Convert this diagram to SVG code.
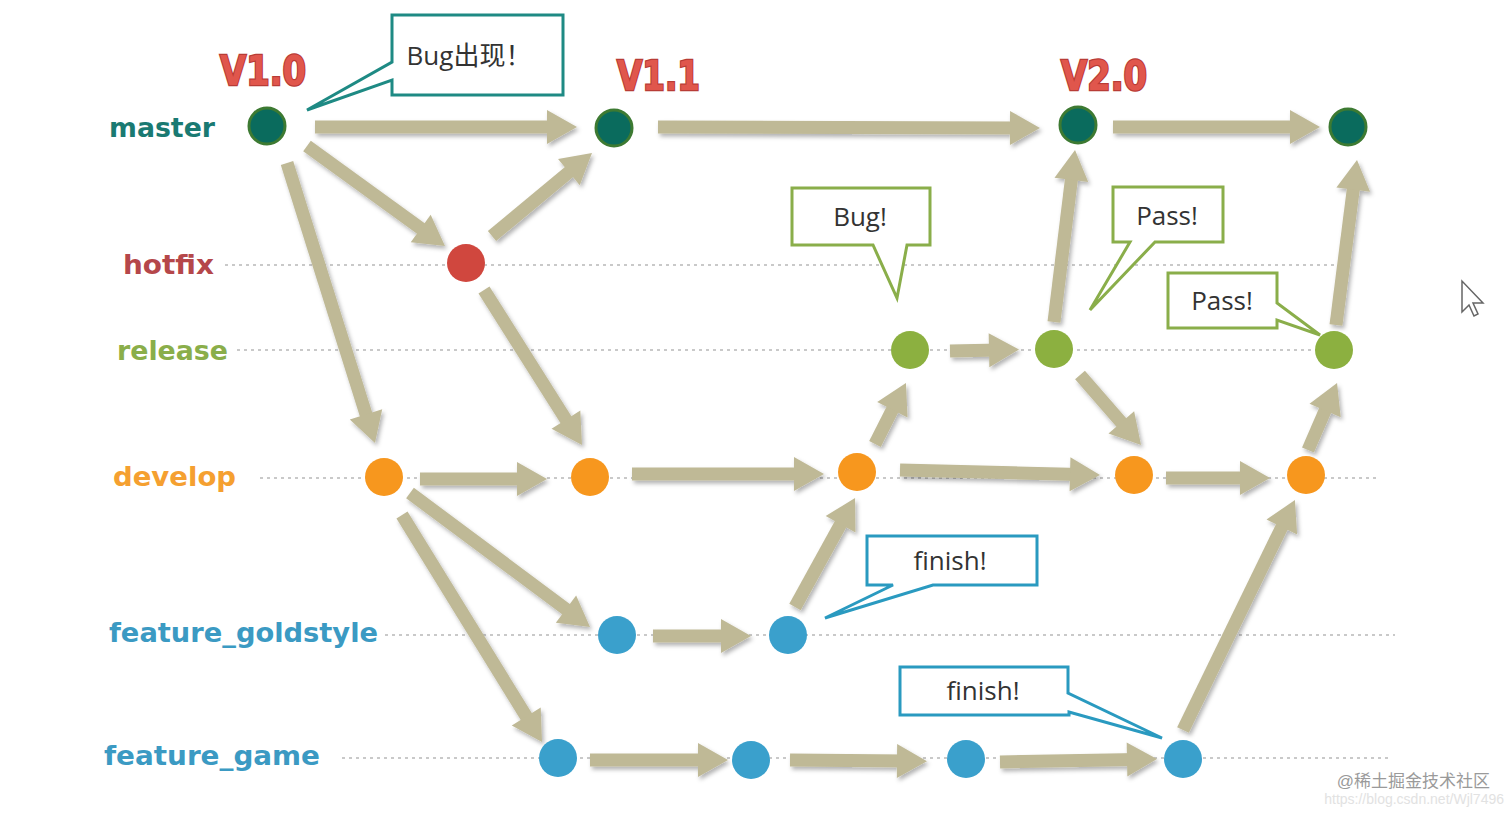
<svg xmlns="http://www.w3.org/2000/svg" width="1512" height="813" viewBox="0 0 1512 813">
<style>
.lbl{font-family:"DejaVu Sans","Liberation Sans",sans-serif;font-weight:bold;font-size:27px}
.ver{font-family:"DejaVu Sans","Liberation Sans",sans-serif;font-weight:bold;font-size:40px;fill:#e0564c;stroke:#b83c36;stroke-width:2.5;paint-order:stroke}
.dot{stroke:#c9c9c9;stroke-width:2;stroke-dasharray:3 4;fill:none}
.arr{stroke:#bfb996;stroke-width:13;fill:none;marker-end:url(#ah)}
.co{fill:#ffffff;stroke-width:3;stroke-linejoin:miter}
.ct{font-family:"Open Sans","Liberation Sans","Noto Sans CJK SC",sans-serif;font-size:26px;fill:#333;text-anchor:middle}
.m{fill:#0a6b5d;stroke:#3d7a32;stroke-width:3}
.h{fill:#d0473e}
.r{fill:#8cb040}
.d{fill:#f7971e}
.f{fill:#3aa0cc}
</style>
<defs>
<marker id="ah" markerUnits="userSpaceOnUse" markerWidth="32" markerHeight="36" refX="10" refY="17" orient="auto" overflow="visible">
<path d="M0,0 L30,17 L0,34 Z" fill="#bfb996"/>
</marker>
<filter id="sh" x="-10%" y="-10%" width="120%" height="120%">
<feDropShadow dx="2" dy="3" stdDeviation="2" flood-color="#000" flood-opacity="0.3"/>
</filter>
</defs>
<rect width="1512" height="813" fill="#ffffff"/>

<g id="lanes">
<line class="dot" x1="225" y1="265" x2="1340" y2="265"/>
<line class="dot" x1="237" y1="350" x2="1330" y2="350"/>
<line class="dot" x1="260" y1="478" x2="1380" y2="478"/>
<line class="dot" x1="385" y1="635" x2="1395" y2="635"/>
<line class="dot" x1="342" y1="758" x2="1390" y2="758"/>
</g>

<g id="labels">
<text class="lbl" x="109" y="137" fill="#1a7a72" textLength="106" lengthAdjust="spacingAndGlyphs">master</text>
<text class="lbl" x="123" y="274" fill="#b5474a" textLength="91" lengthAdjust="spacingAndGlyphs">hotfix</text>
<text class="lbl" x="117" y="360" fill="#8aae4a" textLength="111" lengthAdjust="spacingAndGlyphs">release</text>
<text class="lbl" x="113" y="486" fill="#f5a030" textLength="123" lengthAdjust="spacingAndGlyphs">develop</text>
<text class="lbl" x="109" y="642" fill="#3b9ac3" textLength="269" lengthAdjust="spacingAndGlyphs">feature_goldstyle</text>
<text class="lbl" x="104" y="765" fill="#3b9ac3" textLength="216" lengthAdjust="spacingAndGlyphs">feature_game</text>
<text class="ver" x="220" y="85" textLength="86" lengthAdjust="spacingAndGlyphs">V1.0</text>
<text class="ver" x="617" y="90" textLength="83" lengthAdjust="spacingAndGlyphs">V1.1</text>
<text class="ver" x="1061" y="90" textLength="86" lengthAdjust="spacingAndGlyphs">V2.0</text>
</g>

<g id="connectors" filter="url(#sh)">
<line class="arr" x1="315" y1="127" x2="557" y2="127"/>
<line class="arr" x1="658" y1="127" x2="1020" y2="128"/>
<line class="arr" x1="1113" y1="127" x2="1300" y2="127"/>
<line class="arr" x1="307" y1="146" x2="428.8" y2="234.3"/>
<line class="arr" x1="492" y1="236" x2="576.6" y2="165.8"/>
<line class="arr" x1="287" y1="163" x2="369" y2="423.9"/>
<line class="arr" x1="484" y1="290" x2="571.3" y2="428.1"/>
<line class="arr" x1="420" y1="479" x2="527" y2="479"/>
<line class="arr" x1="632" y1="474" x2="804" y2="474"/>
<line class="arr" x1="875" y1="444" x2="896.9" y2="400.8"/>
<line class="arr" x1="950" y1="351" x2="999" y2="350"/>
<line class="arr" x1="1054" y1="322" x2="1072.6" y2="169.9"/>
<line class="arr" x1="1080" y1="375" x2="1127.9" y2="429.9"/>
<line class="arr" x1="900" y1="470" x2="1080" y2="474.5"/>
<line class="arr" x1="1166" y1="478" x2="1250" y2="478"/>
<line class="arr" x1="1308" y1="450" x2="1329.1" y2="401.4"/>
<line class="arr" x1="1336" y1="325" x2="1354.5" y2="179.8"/>
<line class="arr" x1="410" y1="493" x2="574" y2="615.1"/>
<line class="arr" x1="402" y1="515" x2="531.5" y2="725"/>
<line class="arr" x1="653" y1="636" x2="731" y2="636"/>
<line class="arr" x1="795" y1="607" x2="845.4" y2="515.5"/>
<line class="arr" x1="590" y1="760" x2="708" y2="760"/>
<line class="arr" x1="790" y1="760" x2="907" y2="761"/>
<line class="arr" x1="1000" y1="762" x2="1137" y2="759.4"/>
<line class="arr" x1="1183" y1="730" x2="1286.2" y2="518"/>
</g>

<g id="master-nodes">
<circle id="m1" class="m" cx="267" cy="126" r="18"/>
<circle id="m2" class="m" cx="614" cy="128" r="18"/>
<circle id="m3" class="m" cx="1078" cy="125" r="18"/>
<circle id="m4" class="m" cx="1348" cy="127" r="18"/>
</g>
<g id="hotfix-nodes">
<circle id="h1" class="h" cx="466" cy="263" r="19"/>
</g>
<g id="release-nodes">
<circle id="r1" class="r" cx="910" cy="350" r="19"/>
<circle id="r2" class="r" cx="1054" cy="349" r="19"/>
<circle id="r3" class="r" cx="1334" cy="350" r="19"/>
</g>
<g id="develop-nodes">
<circle id="d1" class="d" cx="384" cy="477" r="19"/>
<circle id="d2" class="d" cx="590" cy="477" r="19"/>
<circle id="d3" class="d" cx="857" cy="472" r="19"/>
<circle id="d4" class="d" cx="1134" cy="475" r="19"/>
<circle id="d5" class="d" cx="1306" cy="475" r="19"/>
</g>
<g id="goldstyle-nodes">
<circle id="g1" class="f" cx="617" cy="635" r="19"/>
<circle id="g2" class="f" cx="788" cy="635" r="19"/>
</g>
<g id="game-nodes">
<circle id="q1" class="f" cx="558" cy="758" r="19"/>
<circle id="q2" class="f" cx="751" cy="760" r="19"/>
<circle id="q3" class="f" cx="966" cy="759" r="19"/>
<circle id="q4" class="f" cx="1183" cy="759" r="19"/>
</g>

<g id="callout-bug-found">
<path class="co" stroke="#1e8a84" d="M392,15 H563 V95 H392 V80 L307,110 L392,62 Z"/>
<text class="ct" x="469" y="65">Bug出现！</text>
</g>
<g id="callout-bug">
<path class="co" stroke="#8aae4a" d="M792,188 H930 V245 H907 L897,298 L873,245 H792 Z"/>
<text class="ct" x="860" y="226">Bug!</text>
</g>
<g id="callout-pass1">
<path class="co" stroke="#8aae4a" d="M1113,187 H1223 V242 H1155 L1090,310 L1130,242 H1113 Z"/>
<text class="ct" x="1167" y="225">Pass!</text>
</g>
<g id="callout-pass2">
<path class="co" stroke="#8aae4a" d="M1168,273 H1277 V303 L1320,335 L1277,320 V328 H1168 Z"/>
<text class="ct" x="1222" y="310">Pass!</text>
</g>
<g id="callout-finish1">
<path class="co" stroke="#2a9ac0" d="M867,536 H1037 V585 H933 L825,618 L893,585 H867 Z"/>
<text class="ct" x="950" y="570">finish!</text>
</g>
<g id="callout-finish2">
<path class="co" stroke="#2a9ac0" d="M900,667 H1068 V693 L1162,738 L1069,712 V715 H900 Z"/>
<text class="ct" x="983" y="700">finish!</text>
</g>

<g id="cursor">
<path d="M1462,281 L1462,312 L1469,305 L1474,316 L1478,314 L1473,303 L1483,303 Z" fill="#ffffff" stroke="#666" stroke-width="1.5"/>
</g>

<g id="watermark" font-family="'Liberation Sans','Noto Sans CJK SC',sans-serif">
<text x="1490" y="787" font-size="17" fill="#9a9a9a" text-anchor="end">@稀土掘金技术社区</text>
<text x="1504" y="804" font-size="14" fill="#e2e2e2" text-anchor="end">https://blog.csdn.net/Wjl7496</text>
</g>
</svg>
